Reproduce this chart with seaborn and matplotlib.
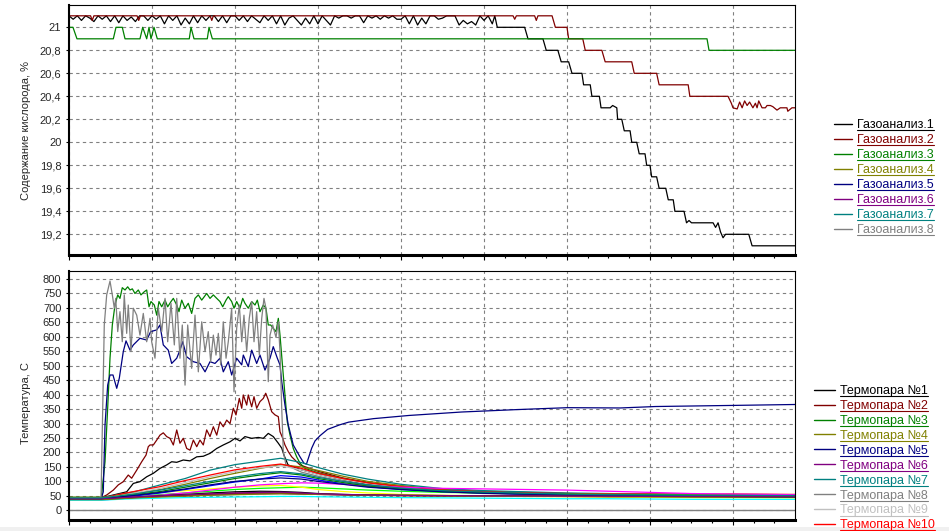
import numpy as np
import matplotlib
matplotlib.use('Agg')
import matplotlib.pyplot as plt
from matplotlib.lines import Line2D
from matplotlib.patches import Rectangle
from matplotlib.ticker import MultipleLocator, FuncFormatter
from matplotlib.transforms import IdentityTransform
import seaborn as sns

# Delphi standard colour order (white skipped)
PALETTE = ['#000000', '#800000', '#008000', '#808000', '#000080', '#800080', '#008080',
           '#808080', '#C0C0C0', '#FF0000', '#00FF00', '#FFFF00', '#0000FF', '#FF00FF', '#00FFFF']

# ---------------- oxygen (top panel) ----------------
O2_NAMES = [f'Газоанализ.{i}' for i in range(1, 9)]

O2_1_NOISE = [
    21.1, 21.07, 21.1, 21.06, 21.1, 21.08, 21.05, 21.1, 21.07, 21.1,
    21.05, 21.1, 21.04, 21.1, 21.06, 21.09, 21.05, 21.1, 21.1, 21.06,
    21.1, 21.07, 21.1, 21.03, 21.1, 21.06, 21.1, 21.02, 21.08, 21.03,
    21.1, 21.04, 21.1, 21.06, 21.1, 21.1, 21.05, 21.1, 21.04, 21.1,
    21.1, 21.06, 21.1, 21.05, 21.1, 21.07, 21.04, 21.1, 21.06, 21.1,
    21.03, 21.1, 21.02, 21.08, 21.1, 21.06, 21.02, 21.08, 21.03, 21.1,
    21.03, 21.1, 21.06, 21.02, 21.1, 21.08, 21.1, 21.1, 21.08, 21.1,
    21.1, 21.04, 21.1, 21.08, 21.1, 21.07, 21.1, 21.08, 21.1, 21.07,
    21.07, 21.1, 21.03, 21.1, 21.02, 21.08, 21.03, 21.1, 21.1, 21.07,
    21.08, 21.1, 21.1, 21.1, 21.02, 21.06, 21.03, 21.05, 21.02, 21.1,
    21.06, 21.1, 21.03]
O2_1_NOISE_T = np.arange(0, 51.01, 0.5)
O2_1_TAIL_T = [51.3, 51.6, 54.9, 55.3, 57.1, 57.5, 58.9, 59.3, 60.2, 60.6,
               61.8, 62.0, 62.8, 63.0, 63.9, 64.1, 65.2, 65.5, 66.0, 66.1,
               66.6, 66.9, 67.6, 67.8, 68.4, 68.7, 69.4, 69.6, 70.0, 70.2,
               70.8, 71.1, 71.9, 72.2, 72.8, 73.0, 74.1, 74.4, 74.7, 75.0,
               77.6, 77.9, 78.2, 78.5, 78.8, 79.1, 81.9, 82.3, 87.5]
O2_1_TAIL_V = [21.1, 21.0, 21.0, 20.9, 20.9, 20.8, 20.8, 20.7, 20.7, 20.6,
               20.6, 20.5, 20.5, 20.4, 20.4, 20.3, 20.3, 20.32, 20.3, 20.2,
               20.2, 20.1, 20.1, 20.0, 20.0, 19.9, 19.9, 19.8, 19.8, 19.7,
               19.7, 19.6, 19.6, 19.5, 19.5, 19.4, 19.4, 19.3, 19.32, 19.3,
               19.3, 19.26, 19.3, 19.22, 19.17, 19.2, 19.2, 19.1, 19.1]

O2_2_T = [0, 2.6, 2.8, 3.0, 8.2, 8.4, 8.6, 17.0, 17.2, 17.4, 53.5, 53.7, 53.9,
          56.1, 56.3, 56.5, 58.2, 58.6, 60.0, 60.2, 61.9, 62.2, 64.2, 64.6,
          67.8, 68.1, 70.8, 71.1, 74.6, 74.8, 79.4, 79.8, 80.0, 80.5, 80.8,
          81.1, 81.4, 81.7, 82.0, 82.4, 82.7, 82.9, 83.1, 83.5, 83.9, 84.1,
          84.5, 84.8, 85.3, 85.7, 86.5, 86.6, 87.1, 87.5]
O2_2_V = [21.1, 21.1, 21.06, 21.1, 21.1, 21.06, 21.1, 21.1, 21.06, 21.1, 21.1, 21.07, 21.1,
          21.1, 21.06, 21.1, 21.1, 21.0, 21.0, 20.9, 20.9, 20.8, 20.8, 20.7,
          20.7, 20.6, 20.6, 20.5, 20.5, 20.4, 20.4, 20.34, 20.30, 20.29, 20.35,
          20.30, 20.36, 20.32, 20.35, 20.30, 20.34, 20.30, 20.36, 20.30, 20.30, 20.32,
          20.32, 20.31, 20.28, 20.30, 20.30, 20.27, 20.30, 20.30]

O2_3_T = [0, 0.48, 0.96, 5.34, 5.66, 6.42, 6.75, 8.55, 8.88, 9.36, 9.64, 9.88,
          10.24, 10.64, 14.49, 14.70, 15.06, 16.66, 16.87, 17.27, 76.87, 77.11, 87.5]
O2_3_V = [21.0, 21.0, 20.9, 20.9, 21.0, 21.0, 20.9, 20.9, 21.0, 20.9, 21.0, 20.9,
          21.0, 20.9, 20.9, 21.0, 20.9, 20.9, 21.0, 20.9, 20.9, 20.8, 20.8]

# ---------------- temperature (bottom panel) ----------------
TC_NAMES = [f'Термопара №{i}' for i in range(1, 23)]
TC_LEGEND_SHOWN = 10   # the rest of the legend falls below the window

TC1_T = [0, 3.9, 4.6, 6.95, 7.75, 8.55, 9.36, 10.16, 10.96, 11.77, 12.37, 12.98, 13.77,
         14.58, 15.39, 16.18, 16.99, 17.80, 18.59, 19.40, 20.0, 20.6, 21.2, 22.01, 22.81,
         23.41, 24.01, 24.61, 25.22, 25.63, 25.9, 26.39, 28, 30, 33, 36, 40, 45, 50, 55,
         60, 65, 70, 75, 80, 87.5]
TC1_V = [43, 43, 48, 64, 93, 99, 116, 128, 145, 157, 168, 166, 174, 171, 185, 187, 197, 214,
         226, 237, 249, 240, 255, 249, 252, 249, 266, 255, 232, 215, 191, 157, 140, 125, 105,
         90, 76, 66, 60, 57, 55, 54, 53, 52, 52, 51]

TC2_T = [0, 3.9, 4.54, 5.34, 5.94, 6.54, 7.14, 7.55, 8.16, 8.76, 9.28, 9.55, 9.76, 10.16,
         10.57, 10.96, 11.36, 11.77, 12.17, 12.57, 12.98, 13.37, 13.77, 14.18, 14.58, 14.98,
         15.39, 15.78, 16.18, 16.59, 16.99, 17.39, 17.80, 18.19, 18.59, 19.00, 19.40, 19.80,
         20.12, 20.52, 20.81, 21.00, 21.41, 21.60, 22.01, 22.29, 22.61, 23.01, 23.41, 23.70,
         24.01, 24.42, 24.82, 25.22, 25.42, 25.75, 26.02, 26.42, 26.83, 27.43, 27.83, 30, 33,
         36, 40, 45, 50, 55, 60, 65, 70, 75, 80, 87.5]
TC2_V = [44, 44, 53, 70, 88, 99, 122, 111, 139, 168, 191, 220, 226, 226, 243, 260, 268, 255,
         249, 226, 278, 232, 249, 214, 208, 243, 220, 243, 226, 278, 255, 289, 260, 306, 289,
         312, 300, 353, 330, 387, 353, 399, 364, 399, 358, 393, 353, 376, 387, 405, 382, 341,
         330, 324, 272, 249, 226, 203, 185, 168, 157, 135, 112, 96, 82, 70, 64, 60, 58, 57,
         56, 55, 55, 54]

TC3_T = [0, 3.9, 4.34, 4.66, 4.94, 5.22, 5.54, 5.87, 6.14, 6.42, 6.75, 7.07, 7.35, 7.63,
         7.95, 8.35, 8.67, 9.07, 9.36, 9.64, 9.88, 10.28, 10.57, 10.84, 11.17, 11.57, 11.89,
         12.29, 12.57, 12.98, 13.25, 13.58, 13.98, 14.37, 14.78, 15.18, 15.58, 15.99, 16.59,
         16.99, 17.39, 17.80, 18.19, 18.52, 18.92, 19.19, 19.60, 19.88, 20.20, 20.60, 20.93,
         21.20, 21.60, 22.01, 22.41, 22.69, 23.01, 23.41, 23.73, 24.01, 24.30, 24.61, 24.94,
         25.22, 25.42, 25.75, 26.02, 26.30, 26.63, 27.02, 27.43, 27.83, 28.43, 30, 33, 36,
         40, 45, 50, 55, 60, 65, 70, 75, 80, 87.5]
TC3_V = [45, 45, 168, 354, 526, 641, 710, 745, 733, 770, 762, 773, 762, 766, 750, 762, 745,
         756, 762, 704, 722, 710, 675, 722, 704, 727, 704, 722, 733, 710, 687, 727, 699, 716,
         681, 733, 745, 727, 750, 733, 745, 733, 722, 704, 727, 739, 722, 699, 722, 699, 733,
         716, 699, 722, 710, 727, 687, 710, 699, 641, 641, 629, 618, 664, 606, 491, 399, 306,
         260, 214, 185, 163, 145, 130, 110, 95, 80, 68, 62, 58, 56, 55, 54, 53, 53, 52]

TC5_T = [0, 3.9, 4.13, 4.34, 4.66, 4.94, 5.30, 5.75, 6.06, 6.54, 6.87, 7.35, 7.75, 8.55,
         9.36, 9.84, 10.57, 10.96, 11.36, 11.96, 12.37, 12.98, 13.37, 13.70, 14.18, 14.98,
         15.78, 16.39, 16.99, 17.59, 18.19, 18.59, 19.19, 19.60, 20.20, 20.81, 21.00, 21.60,
         22.01, 22.61, 23.01, 23.61, 24.22, 24.61, 25.10, 25.42, 25.63, 26.02, 26.42, 27.02,
         27.83, 28.31, 28.61, 29.24, 29.64, 30.24, 31.16, 32.65, 33.70, 36.67, 40.93, 47.30,
         53.67, 60.05, 66.42, 70.67, 80.46, 87.47]
TC5_V = [42, 42, 64, 295, 433, 468, 468, 422, 457, 549, 586, 554, 572, 595, 589, 618, 624,
         641, 572, 554, 508, 526, 554, 583, 531, 514, 508, 479, 514, 508, 526, 479, 514, 468,
         526, 503, 537, 497, 554, 508, 537, 485, 526, 566, 526, 503, 445, 364, 295, 226, 185,
         163, 160, 215, 240, 258, 280, 296, 305, 317, 328, 340, 348, 355, 354, 359, 363, 366]

TC8_T = [0, 3.86, 4.25, 4.54, 4.94, 5.22, 5.46, 5.63, 5.87, 6.14, 6.42, 6.66, 6.95, 7.14,
         7.47, 7.75, 8.16, 8.55, 8.95, 9.36, 9.76, 9.96, 10.36, 10.76, 11.17, 11.57, 11.89,
         12.29, 12.69, 12.98, 13.37, 13.65, 13.98, 14.30, 14.78, 15.18, 15.58, 15.99, 16.39,
         16.78, 17.07, 17.39, 17.71, 17.99, 18.28, 18.59, 18.92, 19.19, 19.60, 19.88, 20.20,
         20.52, 20.81, 21.08, 21.41, 21.72, 22.01, 22.29, 22.61, 22.93, 23.22, 23.49, 23.73,
         24.01, 24.22, 24.54, 24.94, 25.22, 25.42, 25.63, 25.82, 26.14, 28, 30, 33, 36, 40,
         45, 50, 55, 60, 65, 70, 75, 80, 87.5]
TC8_V = [44, 44, 641, 745, 793, 745, 699, 733, 618, 687, 583, 745, 612, 710, 549, 699, 675,
         606, 681, 583, 664, 583, 526, 699, 618, 733, 583, 716, 572, 733, 526, 641, 433, 641,
         491, 675, 479, 652, 549, 618, 514, 606, 537, 612, 503, 652, 526, 583, 699, 410, 629,
         710, 583, 675, 549, 664, 722, 583, 687, 537, 664, 733, 699, 445, 606, 641, 598, 652,
         549, 353, 203, 157, 132, 118, 100, 86, 74, 64, 58, 55, 54, 53, 52, 52, 51, 51]

BUNDLE_T = [0, 3.9, 4.6, 6, 8, 11, 14, 17, 20, 23, 25.5, 28, 30, 33, 36, 40, 45, 50, 55,
            60, 65, 70, 75, 80, 87.5]
TC4_V = [45, 45, 47, 52, 60, 72, 90, 110, 128, 145, 158, 150, 138, 118, 100, 86, 72, 66, 62, 58, 56, 55, 54, 53, 52]
TC6_V = [36, 36, 37, 40, 44, 48, 50, 53, 55, 57, 58, 56, 55, 53, 52, 51, 50, 49, 49, 48, 47, 46, 46, 45, 45]
TC7_V = [44, 44, 46, 55, 65, 88, 110, 139, 158, 170, 180, 165, 148, 125, 108, 90, 75, 68, 64, 60, 58, 56, 55, 54, 53]
TC9_V = [40, 40, 43, 50, 60, 76, 96, 116, 134, 147, 154, 140, 124, 106, 92, 80, 68, 62, 58, 56, 55, 55, 54, 53, 52]
TC10_V = [42, 42, 45, 55, 66, 82, 103, 122, 140, 152, 160, 145, 128, 110, 95, 82, 70, 64, 60, 58, 57, 56, 55, 56, 55]
TC11_V = [41, 41, 42, 44, 48, 54, 60, 66, 72, 76, 78, 80, 78, 74, 70, 66, 62, 60, 58, 56, 55, 54, 53, 52, 52]
TC12_V = [42, 42, 44, 50, 56, 62, 68, 74, 80, 84, 86, 80, 72, 65, 60, 55, 52, 50, 48, 47, 46, 45, 44, 44, 43]
TC13_V = [38, 38, 40, 45, 50, 60, 72, 85, 98, 108, 120, 115, 105, 92, 82, 72, 65, 60, 56, 54, 52, 50, 48, 48, 47]
TC14_V = [40, 40, 41, 43, 46, 52, 60, 70, 80, 88, 92, 95, 94, 90, 85, 80, 76, 74, 72, 70, 66, 62, 58, 56, 54]
TC15_V = [35, 35, 36, 38, 40, 42, 44, 45, 46, 47, 48, 48, 47, 46, 45, 44, 43, 42, 41, 40, 40, 39, 38, 38, 38]
TC16_V = [39, 39, 40, 42, 45, 50, 55, 60, 64, 66, 65, 62, 58, 55, 53, 52, 51, 50, 50, 49, 49, 48, 48, 47, 47]
TC17_V = [38, 38, 39, 41, 44, 48, 52, 56, 59, 60, 60, 58, 56, 54, 52, 51, 50, 50, 49, 49, 48, 48, 47, 47, 47]
TC18_V = [41, 41, 43, 47, 55, 65, 80, 95, 110, 122, 130, 122, 110, 96, 84, 74, 66, 61, 57, 55, 53, 52, 51, 50, 50]
TC19_V = [37, 37, 38, 40, 43, 46, 49, 52, 54, 56, 57, 56, 55, 54, 52, 51, 50, 49, 48, 48, 47, 47, 46, 46, 46]
TC20_V = [40, 40, 42, 46, 52, 62, 74, 88, 100, 108, 112, 108, 100, 90, 80, 72, 64, 59, 56, 53, 51, 50, 49, 48, 47]
TC21_V = [40, 40, 41, 43, 46, 50, 54, 57, 60, 62, 63, 60, 57, 55, 53, 52, 51, 50, 50, 49, 49, 48, 48, 48, 48]
TC22_V = [43, 43, 45, 50, 57, 70, 85, 100, 115, 127, 134, 126, 114, 100, 88, 77, 68, 63, 59, 56, 54, 53, 52, 52, 51]

TC_SERIES = [
    (TC1_T, TC1_V), (TC2_T, TC2_V), (TC3_T, TC3_V), (BUNDLE_T, TC4_V), (TC5_T, TC5_V),
    (BUNDLE_T, TC6_V), (BUNDLE_T, TC7_V), (TC8_T, TC8_V), (BUNDLE_T, TC9_V), (BUNDLE_T, TC10_V),
    (BUNDLE_T, TC11_V), (BUNDLE_T, TC12_V), (BUNDLE_T, TC13_V), (BUNDLE_T, TC14_V),
    (BUNDLE_T, TC15_V), (BUNDLE_T, TC16_V), (BUNDLE_T, TC17_V), (BUNDLE_T, TC18_V),
    (BUNDLE_T, TC19_V), (BUNDLE_T, TC20_V), (BUNDLE_T, TC21_V), (BUNDLE_T, TC22_V),
]

sns.set_style('white')
plt.rcParams['font.family'] = ['Liberation Sans', 'DejaVu Sans']

W, H = 949, 531
fig = plt.figure(figsize=(W / 100, H / 100), dpi=100)
fig.patch.set_facecolor('white')
fig.patches.append(Rectangle((0, 0), 1, 4 / H, transform=fig.transFigure,
                             facecolor='#f0f0f0', edgecolor='none', zorder=-5))

ax1 = fig.add_axes([69 / W, 1 - 255 / H, 726 / W, 250 / H])
ax2 = fig.add_axes([69 / W, 1 - 520 / H, 726 / W, 249 / H])


def style_axes(ax):
    for side, lw in (('top', 0.8), ('right', 0.8), ('left', 1.5), ('bottom', 2.2)):
        ax.spines[side].set_visible(True)
        ax.spines[side].set_color('black')
        ax.spines[side].set_linewidth(lw)
    ax.set_xlim(0, 87.47)
    ax.xaxis.set_major_locator(MultipleLocator(10))
    ax.xaxis.set_minor_locator(MultipleLocator(2.5))
    ax.tick_params(axis='x', which='both', direction='out', bottom=True, labelbottom=False,
                   width=0.8, color='black')
    ax.tick_params(axis='x', which='major', length=3.5)
    ax.tick_params(axis='x', which='minor', length=2.5)
    ax.tick_params(axis='y', which='major', direction='out', left=True, length=2.5,
                   width=0.8, pad=3, labelsize=8, color='black')
    ax.grid(True, which='major', color='#808080', ls=(0, (3, 3)), lw=0.8)
    ax.set_axisbelow(True)
    ax.set_xlabel('')


# top panel
sns.lineplot(x=list(O2_1_NOISE_T) + O2_1_TAIL_T, y=O2_1_NOISE + O2_1_TAIL_V, ax=ax1,
             color=PALETTE[0], lw=0.9, estimator=None, sort=False)
sns.lineplot(x=O2_2_T, y=O2_2_V, ax=ax1, color=PALETTE[1], lw=0.9, estimator=None, sort=False)
sns.lineplot(x=O2_3_T, y=O2_3_V, ax=ax1, color=PALETTE[2], lw=0.9, estimator=None, sort=False)
style_axes(ax1)
ax1.set_ylim(19.02, 21.194)
ax1.yaxis.set_major_locator(MultipleLocator(0.2))
ax1.yaxis.set_major_formatter(FuncFormatter(
    lambda v, p: ('%.1f' % v).rstrip('0').rstrip('.').replace('.', ',')))
ax1.set_ylabel('Содержание кислорода, %', fontsize=8)
ax1.yaxis.set_label_coords((31 - 69) / 726, 0.5)

# bottom panel
for i, (tt, vv) in enumerate(TC_SERIES):
    sns.lineplot(x=tt, y=vv, ax=ax2, color=PALETTE[i % len(PALETTE)], lw=0.9,
                 estimator=None, sort=False)
style_axes(ax2)
ax2.axhline(0, color='#808080', lw=1.0, zorder=1)
ax2.set_ylim(-33.5, 827.7)
ax2.yaxis.set_major_locator(MultipleLocator(50))
ax2.yaxis.set_major_formatter(FuncFormatter(lambda v, p: '%d' % round(v)))
ax2.set_ylabel('Температура, С', fontsize=8)
ax2.yaxis.set_label_coords((31 - 69) / 726, 0.47)

# legends
fs = 9
fpx = fs * 100 / 72
o2_handles = [Line2D([], [], color=PALETTE[i], lw=1) for i in range(len(O2_NAMES))]
leg1 = fig.legend(o2_handles, O2_NAMES, loc='upper left', bbox_to_anchor=(834 / W, 1 - 119 / H),
                  bbox_transform=fig.transFigure, frameon=False, borderpad=0, borderaxespad=0,
                  handlelength=18 / fpx, handletextpad=5 / fpx, labelspacing=0.245,
                  fontsize=fs)
tc_handles = [Line2D([], [], color=PALETTE[i % len(PALETTE)], lw=1)
              for i in range(TC_LEGEND_SHOWN)]
leg2 = fig.legend(tc_handles, TC_NAMES[:TC_LEGEND_SHOWN], loc='upper left',
                  bbox_to_anchor=(814 / W, 1 - 385 / H),
                  bbox_transform=fig.transFigure, frameon=False, borderpad=0, borderaxespad=0,
                  handlelength=21 / fpx, handletextpad=5 / fpx, labelspacing=0.235,
                  fontsize=fs)
for leg, hs in ((leg1, o2_handles), (leg2, tc_handles)):
    for txt, h in zip(leg.get_texts(), hs):
        txt.set_color(h.get_color())

# underline legend labels
fig.canvas.draw()
renderer = fig.canvas.get_renderer()
for leg, hs in ((leg1, o2_handles), (leg2, tc_handles)):
    for txt, h in zip(leg.get_texts(), hs):
        bb = txt.get_window_extent(renderer)
        fig.add_artist(Line2D([bb.x0, bb.x1], [bb.y0 + 1, bb.y0 + 1], transform=IdentityTransform(),
                              color=h.get_color(), lw=0.8))

fig.savefig('out.png', dpi=100)
plt.close(fig)
